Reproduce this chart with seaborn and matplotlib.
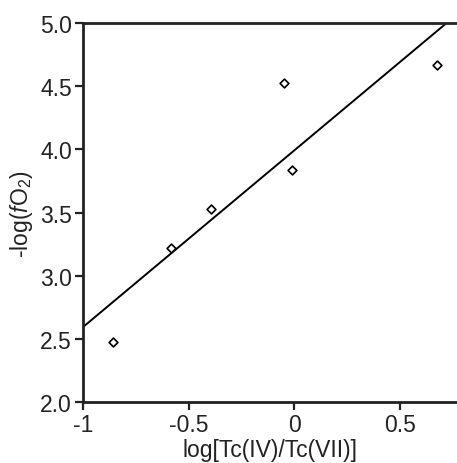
import matplotlib
matplotlib.use("Agg")
import matplotlib.pyplot as plt
import seaborn as sns
import pandas as pd

# Tc speciation ratio vs. oxygen fugacity
log_tc_ratio = [-0.859, -0.584, -0.396, -0.047, -0.010, 0.676]
neg_log_fo2 = [2.48, 3.217, 3.528, 4.526, 3.839, 4.666]

x_ticks = [-1, -0.5, 0, 0.5]
x_tick_labels = ["-1", "-0.5", "0", "0.5"]
y_ticks = [2.0, 2.5, 3.0, 3.5, 4.0, 4.5, 5.0]
y_tick_labels = ["2.0", "2.5", "3.0", "3.5", "4.0", "4.5", "5.0"]

df = pd.DataFrame({"ratio": log_tc_ratio, "fo2": neg_log_fo2})

sns.set_style("ticks")
plt.rcParams["font.family"] = ["Liberation Sans", "DejaVu Sans"]
plt.rcParams["mathtext.fontset"] = "custom"
plt.rcParams["mathtext.rm"] = "Liberation Sans"
plt.rcParams["mathtext.it"] = "Liberation Sans:italic"

fig = plt.figure(figsize=(4.57, 4.64), dpi=100)
ax = fig.add_axes([0.182, 0.131, 0.818, 0.817])
ax.set_xlim(-1, 0.77)
ax.set_ylim(2.0, 5.0)

sns.regplot(data=df, x="ratio", y="fo2", ax=ax, ci=None, truncate=False,
            marker="D", color="black",
            scatter_kws=dict(s=20, facecolors="white", edgecolors="black",
                             linewidths=1.2, alpha=1, zorder=3),
            line_kws=dict(color="black", lw=1.4))

ax.set_xticks(x_ticks)
ax.set_xticklabels(x_tick_labels)
ax.set_yticks(y_ticks)
ax.set_yticklabels(y_tick_labels)
ax.tick_params(direction="out", length=6, width=1.6, labelsize=16.5,
               colors="#222222", pad=2)
for side in ["left", "top", "bottom"]:
    ax.spines[side].set_visible(True)
    ax.spines[side].set_linewidth(2.0)
    ax.spines[side].set_color("#222222")
ax.spines["right"].set_visible(False)

ax.set_xlabel("log[Tc(IV)/Tc(VII)]", fontsize=16.5, labelpad=1, color="#222222")
ax.set_ylabel("-log($f$O$_2$)", fontsize=16.5, labelpad=4, color="#222222")

fig.savefig("out.png", dpi=100)
